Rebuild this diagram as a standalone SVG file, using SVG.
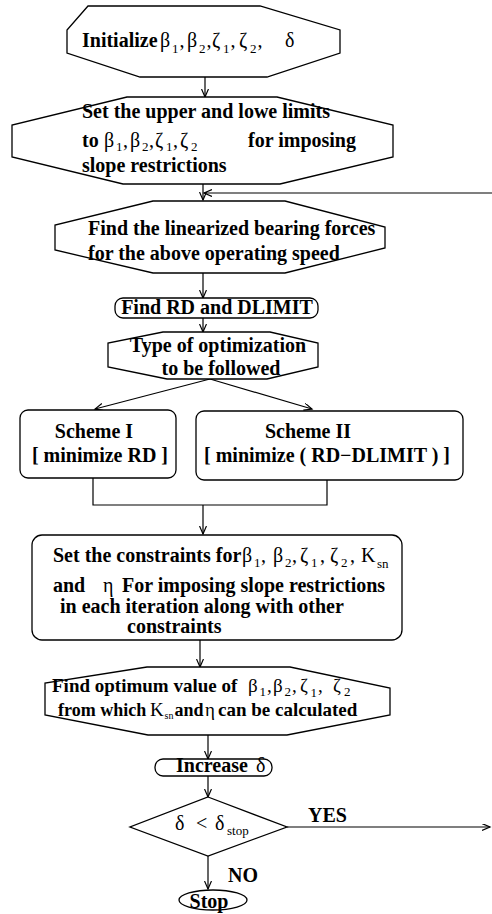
<svg xmlns="http://www.w3.org/2000/svg" width="492" height="914" viewBox="0 0 492 914">
<defs>
<marker id="ah" markerWidth="10" markerHeight="8" refX="8" refY="3.5" orient="auto" markerUnits="userSpaceOnUse">
<path d="M0,0 L8,3.5 L0,7" fill="none" stroke="#000" stroke-width="1.2"/>
</marker>
</defs>
<style>
.sh{fill:#fff;stroke:#000;stroke-width:1.3}
.ln{fill:none;stroke:#000;stroke-width:1.2}
.ar{fill:none;stroke:#000;stroke-width:1.2;marker-end:url(#ah)}
text{font-family:"Liberation Serif","Times New Roman",serif;font-weight:bold;font-size:20px;fill:#000}
.m{text-anchor:middle}
.g{font-weight:normal}
.s{font-weight:normal;font-size:13px}
.o{font-size:19px}
</style>
<rect width="492" height="914" fill="#fff"/>
<g id="connectors">
<line class="ar" x1="205" y1="77" x2="205" y2="97"/>
<line class="ar" x1="203" y1="184" x2="203" y2="200"/>
<line class="ar" x1="492" y1="193" x2="204" y2="193"/>
<line class="ar" x1="203" y1="273" x2="203" y2="298"/>
<line class="ar" x1="203" y1="318" x2="203" y2="332"/>
<line class="ar" x1="210" y1="379" x2="95" y2="409"/>
<line class="ar" x1="210" y1="379" x2="312" y2="409"/>
<polyline class="ln" points="93,478 93,505 327,505 327,480"/>
<line class="ar" x1="203" y1="505" x2="203" y2="534"/>
<line class="ar" x1="200" y1="640" x2="200" y2="667"/>
<line class="ar" x1="208" y1="735" x2="208" y2="759"/>
<line class="ar" x1="208" y1="776" x2="208" y2="797"/>
<line class="ar" x1="208" y1="856" x2="208" y2="889"/>
<line class="ar" x1="287" y1="827" x2="490" y2="827"/>
<text x="308" y="822">YES</text>
<text x="228" y="882">NO</text>
</g>
<g id="initialize">
<polygon class="sh" points="88,6 260,6 340,30 340,53 267,77 140,77 67,53 67,30"/>
<text y="47"><tspan x="82">Initialize</tspan><tspan class="g" x="160">β</tspan><tspan class="s" x="172" y="53">1</tspan><tspan class="g" x="179.5" y="47">,</tspan><tspan class="g" x="187">β</tspan><tspan class="s" x="199" y="53">2</tspan><tspan class="g" x="206.5" y="47">,</tspan><tspan class="g" x="212">ζ</tspan><tspan class="s" x="223" y="53">1</tspan><tspan class="g" x="230.5" y="47">,</tspan><tspan class="g" x="239">ζ</tspan><tspan class="s" x="250" y="53">2</tspan><tspan class="g" x="257.5" y="47">,</tspan><tspan class="g" x="285">δ</tspan></text>
</g>
<g id="limits">
<polygon class="sh" points="127,97 277,97 393,125 393,157 280,184 123,184 12,157 12,125"/>
<text x="82" y="118">Set the upper and lowe limits</text>
<text y="147"><tspan x="82">to</tspan><tspan class="g" x="104">β</tspan><tspan class="s" x="116" y="151">1</tspan><tspan class="g" x="123" y="147">,</tspan><tspan class="g" x="130">β</tspan><tspan class="s" x="142" y="151">2</tspan><tspan class="g" x="149" y="147">,</tspan><tspan class="g" x="155">ζ</tspan><tspan class="s" x="166" y="151">1</tspan><tspan class="g" x="173" y="147">,</tspan><tspan class="g" x="180">ζ</tspan><tspan class="s" x="191" y="151">2</tspan><tspan x="248" y="147">for imposing</tspan></text>
<text x="82" y="172">slope restrictions</text>
</g>
<g id="linearized">
<polygon class="sh" points="153,201 285,201 385,227 385,248 285,273 153,273 55,250 55,225"/>
<text x="88" y="235">Find the linearized bearing forces</text>
<text x="88" y="260">for the above operating speed</text>
</g>
<g id="findrd">
<rect class="sh" x="115" y="298" width="203" height="20" rx="8"/>
<text class="m" x="217" y="314">Find RD and DLIMIT</text>
</g>
<g id="type">
<polygon class="sh" points="163,332 270,332 318,343 318,367 267,379 167,379 108,367 108,343"/>
<text class="m" x="218" y="352">Type of optimization</text>
<text class="m" x="221" y="375">to be followed</text>
</g>
<g id="scheme1">
<rect class="sh" x="20" y="410" width="156" height="68" rx="8"/>
<text class="m" x="94" y="438">Scheme I</text>
<text class="m" x="100" y="462">[ minimize RD ]</text>
</g>
<g id="scheme2">
<rect class="sh" x="196" y="411" width="267" height="69" rx="8"/>
<text class="m" x="308" y="438">Scheme II</text>
<text class="m" x="327" y="462">[ minimize ( RD−DLIMIT ) ]</text>
</g>
<g id="constraints">
<rect class="sh" x="32" y="535" width="370" height="105" rx="10"/>
<text y="562"><tspan x="53">Set the constraints for</tspan><tspan class="g" x="242">β</tspan><tspan class="s" x="254" y="567">1</tspan><tspan class="g" x="261" y="562">,</tspan><tspan class="g" x="273">β</tspan><tspan class="s" x="285" y="567">2</tspan><tspan class="g" x="292" y="562">,</tspan><tspan class="g" x="300">ζ</tspan><tspan class="s" x="311" y="567">1</tspan><tspan class="g" x="320" y="562">,</tspan><tspan class="g" x="330">ζ</tspan><tspan class="s" x="341" y="567">2</tspan><tspan class="g" x="350" y="562">,</tspan><tspan class="g" x="361">K</tspan><tspan class="s" x="377" y="568">sn</tspan></text>
<text y="592"><tspan x="53">and</tspan><tspan class="g" x="103">η</tspan><tspan x="122">For imposing slope restrictions</tspan></text>
<text x="60" y="613">in each iteration along with other</text>
<text x="127" y="633">constraints</text>
</g>
<g id="optimum">
<polygon class="sh" points="147,667 290,667 390,688 390,715 287,735 148,735 45,715 45,683"/>
<text class="o" y="692"><tspan x="52">Find optimum value of</tspan><tspan class="g" x="248">β</tspan><tspan class="s" x="259.5" y="696">1</tspan><tspan class="g" x="267" y="692">,</tspan><tspan class="g" x="273">β</tspan><tspan class="s" x="284.5" y="696">2</tspan><tspan class="g" x="292" y="692">,</tspan><tspan class="g" x="300">ζ</tspan><tspan class="s" x="310.5" y="697">1</tspan><tspan class="g" x="318" y="692">,</tspan><tspan class="g" x="333">ζ</tspan><tspan class="s" x="344" y="696">2</tspan></text>
<text class="o" y="716"><tspan x="58" style="font-size:18px">from which</tspan><tspan class="g" x="150">K</tspan><tspan class="s" x="164.5" y="719" style="font-size:10px">sn</tspan><tspan x="174.5" y="716" style="font-size:18px">and</tspan><tspan class="g" x="205">η</tspan><tspan x="218">can be calculated</tspan></text>
</g>
<g id="increase">
<rect class="sh" x="155" y="759" width="117" height="17" rx="8"/>
<text y="772"><tspan x="176">Increase</tspan><tspan class="g" x="256">δ</tspan></text>
</g>
<g id="decision">
<polygon class="sh" points="208,797 287,827 208,856 130,827"/>
<text y="830"><tspan class="g" x="175">δ</tspan><tspan class="g" x="196">&lt;</tspan><tspan class="g" x="215">δ</tspan><tspan class="s" x="227" y="835">stop</tspan></text>
</g>
<g id="stop">
<ellipse class="sh" cx="213" cy="900" rx="34" ry="10"/>
<text class="m" x="209" y="908">Stop</text>
</g>
</svg>
